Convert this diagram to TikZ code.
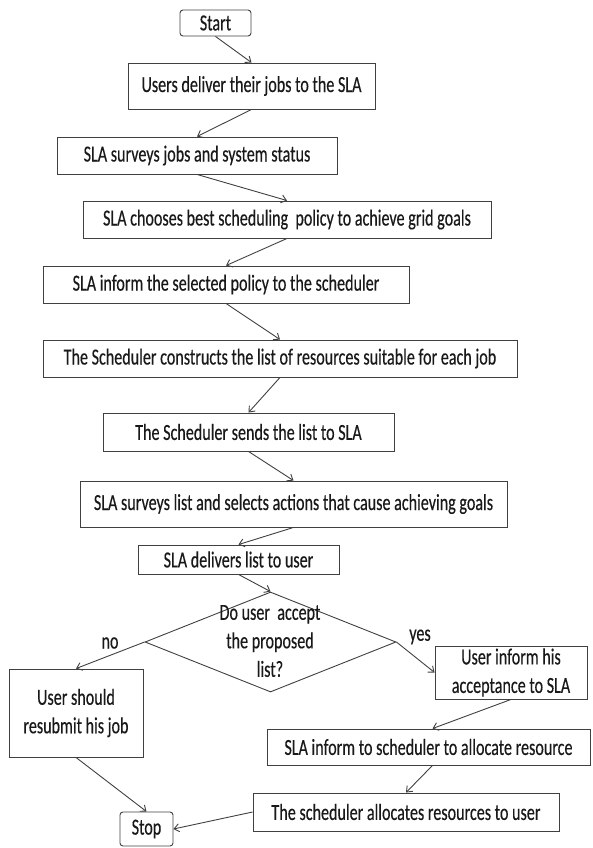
\documentclass[tikz,border=0pt]{standalone}
\usepackage{fontspec}
\newfontfamily\flowfont[FakeStretch=0.7,FakeBold=0.35]{Carlito}
\usetikzlibrary{arrows.meta,shapes.geometric}

\tikzset{
  every node/.style={font=\flowfont\fontsize{23}{28.5}\selectfont, text=black!90},
  flowline/.style={draw=black!75, line width=0.9pt},
  procbox/.style={flowline, rectangle, inner sep=0pt, align=center},
  termbox/.style={procbox, rounded corners=3pt},
  decbox/.style={flowline, diamond, inner sep=0pt},
  flowarrow/.style={flowline, -{Straight Barb[length=5pt,width=8pt]}},
  branchlabel/.style={inner sep=0pt}
}

\begin{document}
\begin{tikzpicture}[x=1pt, y=-1pt]
  \useasboundingbox (0,0) rectangle (593,848);

  % main sequence of steps
  \node[termbox, minimum width=71pt, minimum height=26pt] (start) at (215.5,23) {Start};
  \node[procbox, minimum width=247pt, minimum height=46pt] (users) at (251.5,86) {Users deliver their jobs to the SLA};
  \node[procbox, minimum width=280pt, minimum height=37pt] (survjobs) at (197,155.5) {SLA surveys jobs and system status};
  \node[procbox, minimum width=408pt, minimum height=37pt] (choose) at (287,219.5) {SLA chooses best scheduling\ \ policy to achieve grid goals};
  \node[procbox, minimum width=366pt, minimum height=37pt] (inform) at (226,284.5) {SLA inform the selected policy to the scheduler};
  \node[procbox, minimum width=474pt, minimum height=37pt] (construct) at (280,358.5) {The Scheduler constructs the list of resources suitable for each job};
  \node[procbox, minimum width=291pt, minimum height=38pt] (sends) at (248.5,432) {The Scheduler sends the list to SLA};
  \node[procbox, minimum width=427pt, minimum height=46pt] (survlist) at (293.5,504) {SLA surveys list and selects actions that cause achieving goals};
  \node[procbox, minimum width=201pt, minimum height=29pt] (deliver) at (238.5,559.5) {SLA delivers list to user};

  % decision
  \node[decbox, minimum width=251pt, minimum height=100pt] (decide) at (270.5,642) {};
  \node[align=center, inner sep=0pt] (decidetext) at (270,641) {Do user\ \ accept\\the proposed\\list?};
  \node[branchlabel] (lblno) at (110,643) {no};
  \node[branchlabel] (lblyes) at (420,637) {yes};

  % branches
  \node[procbox, minimum width=134pt, minimum height=88pt] (resub) at (76,713) {User should\\resubmit his job};
  \node[procbox, minimum width=152pt, minimum height=53pt] (userinf) at (511,672.5) {User inform his\\acceptance to SLA};
  \node[procbox, minimum width=323pt, minimum height=36pt] (slainf) at (428.5,747) {SLA inform to scheduler\ to allocate resource};
  \node[procbox, minimum width=306pt, minimum height=38pt] (alloc) at (406,812) {The scheduler\ allocates resources to user};
  \node[termbox, minimum width=53pt, minimum height=34pt] (stop) at (146.5,829) {Stop};

  % connectors
  \draw[flowarrow] (start.south) -- (users.north);
  \draw[flowarrow] (users.south) -- (survjobs.north);
  \draw[flowarrow] (survjobs.south) -- (choose.north);
  \draw[flowarrow] (choose.south) -- (inform.north);
  \draw[flowarrow] (inform.south) -- (construct.north);
  \draw[flowarrow] (construct.south) -- (sends.north);
  \draw[flowarrow] (sends.south) -- (survlist.north);
  \draw[flowarrow] (survlist.south) -- (deliver.north);
  \draw[flowarrow] (deliver.south) -- (decide.north);
  \draw[flowarrow] (decide.west) -- (resub.north);
  \draw[flowarrow] (decide.east) -- (userinf.west);
  \draw[flowarrow] (userinf.south) -- ([xshift=4pt]slainf.north);
  \draw[flowarrow] ([xshift=4pt]slainf.south) -- (alloc.north);
  \draw[flowarrow] (resub.south) -- (stop.north);
  \draw[flowarrow] (alloc.west) -- (stop.east);
\end{tikzpicture}
\end{document}
